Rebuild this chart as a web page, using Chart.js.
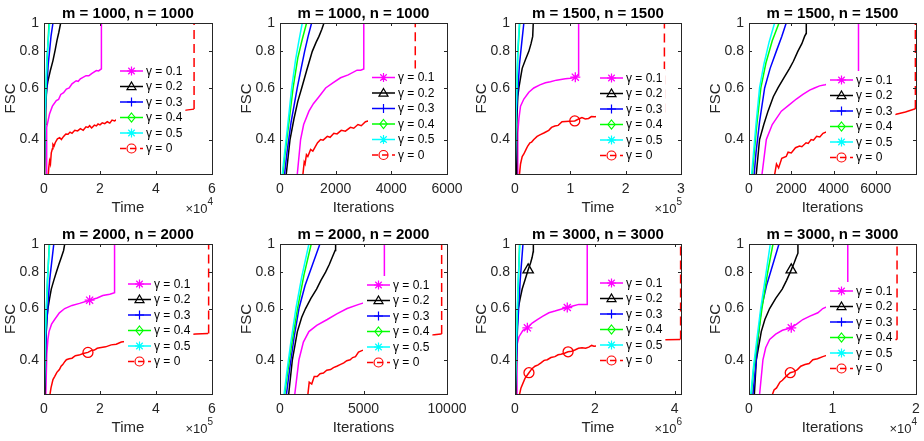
<!DOCTYPE html>
<html>
<head>
<meta charset="utf-8">
<script src="https://cdn.jsdelivr.net/npm/chart.js@4.4.1/dist/chart.umd.min.js"></script>
<style>
  html, body { margin: 0; padding: 0; background: #fff; }
  body { width: 924px; height: 441px; position: relative; overflow: hidden; }
  .cell { position: absolute; }
</style>
</head>
<body>
<script>
// ---- chart text ----
const titles = ['m = 1000, n = 1000', 'm = 1000, n = 1000', 'm = 1500, n = 1500', 'm = 1500, n = 1500',
  'm = 2000, n = 2000', 'm = 2000, n = 2000', 'm = 3000, n = 3000', 'm = 3000, n = 3000'];
const xLabels = ['Time', 'Iterations', 'Time', 'Iterations', 'Time', 'Iterations', 'Time', 'Iterations'];
const legendLabels = ['\u03b3 = 0.1', '\u03b3 = 0.2', '\u03b3 = 0.3', '\u03b3 = 0.4', '\u03b3 = 0.5', '\u03b3 = 0'];

// ---- axes ----
const xMax = [6e4, 6000, 3e5, 7900, 6e5, 10000, 4.16e6, 2e4];
const xTicks = [[0, 2e4, 4e4, 6e4], [0, 2000, 4000, 6000], [0, 1e5, 2e5, 3e5], [0, 2000, 4000, 6000],
  [0, 2e5, 4e5, 6e5], [0, 5000, 10000], [0, 2e6, 4e6], [0, 1e4, 2e4]];
const xExp = [4, 0, 5, 0, 5, 0, 6, 4];
const yTicks = [0.4, 0.6, 0.8, 1];
const yMin = 0.305;

// ---- panel 1: m = n = 1000, time ----
const p1g01 = [[800,0.29],[900,0.4],[1000,0.44],[2000,0.49],[3000,0.52],[4400,0.543],[5200,0.548],[6000,0.57],[7000,0.578],[8000,0.595],[9000,0.6],[10000,0.62],[11500,0.635],[12200,0.632],[13000,0.645],[15000,0.661],[16000,0.66],[17000,0.672],[18700,0.688],[19500,0.686],[20500,0.697],[20500,1]];
const p1g02 = [[200,0.29],[400,0.45],[600,0.54],[1000,0.6],[1430,0.635],[2300,0.69],[3200,0.744],[4000,0.81],[4640,0.872],[5300,0.93],[5950,1]];
const p1g03 = [[0,0.29],[500,0.5],[1500,0.72],[2500,0.9],[3200,1]];
const p1g04 = [[0,0.29],[450,0.5],[1100,0.75],[1800,1]];
const p1g05 = [[0,0.29],[400,0.5],[1000,0.75],[2000,1]];
const p1g0 = [[1400,0.29],[1700,0.32],[2000,0.338],[2300,0.33],[2600,0.36],[3000,0.372],[3200,0.385],[3600,0.38],[4000,0.39],[4800,0.402],[5600,0.406],[6200,0.4],[7000,0.41],[7800,0.418],[8600,0.417],[9300,0.424],[10000,0.42],[11000,0.43],[12000,0.428],[13000,0.436],[14000,0.43],[15000,0.442],[15700,0.44],[16300,0.446],[17000,0.438],[18000,0.448],[18700,0.445],[19300,0.452],[20000,0.449],[20800,0.456],[21700,0.453],[22600,0.46],[23500,0.455],[24300,0.466],[25200,0.463],[26000,0.468],[35000,0.48],[45000,0.495],[51400,0.505],[53600,0.508],[53600,1]];

// ---- panel 2: m = n = 1000, iterations ----
const p2g01 = [[600,0.29],[740,0.4],[850,0.45],[1040,0.5],[1200,0.53],[1400,0.56],[1640,0.6],[1900,0.625],[2175,0.65],[2450,0.665],[2770,0.69],[2900,0.69],[3010,0.697],[3010,1]];
const p2g02 = [[200,0.29],[360,0.4],[500,0.47],[640,0.54],[780,0.6],[960,0.69],[1160,0.8],[1300,0.86],[1400,0.9],[1500,0.95],[1580,1]];
const p2g03 = [[140,0.29],[250,0.36],[400,0.46],[620,0.6],[760,0.7],[885,0.8],[1010,0.9],[1135,1]];
const p2g04 = [[80,0.29],[170,0.35],[310,0.45],[470,0.6],[640,0.76],[800,0.88],[955,1]];
const p2g05 = [[60,0.29],[150,0.35],[280,0.45],[420,0.6],[560,0.75],[680,0.87],[800,1]];
const p2g0 = [[800,0.29],[870,0.335],[900,0.33],[950,0.355],[1000,0.35],[1100,0.37],[1180,0.365],[1250,0.375],[1350,0.39],[1460,0.4],[1550,0.398],[1700,0.41],[1800,0.407],[1935,0.42],[2050,0.418],[2200,0.43],[2350,0.427],[2530,0.44],[2650,0.437],[2800,0.45],[2920,0.446],[3070,0.46],[3800,0.48],[4500,0.49],[4860,0.5],[4860,1]];

// ---- panel 3: m = n = 1500, time ----
const p3g01 = [[4000,0.29],[5000,0.42],[7000,0.47],[10000,0.52],[16000,0.55],[25000,0.58],[34000,0.6],[45000,0.615],[55000,0.625],[64000,0.63],[75000,0.638],[91000,0.645],[100000,0.648],[109000,0.653],[115000,0.661],[115000,1]];
const p3g02 = [[2000,0.29],[3000,0.45],[5000,0.56],[7000,0.6],[10000,0.65],[13000,0.7],[19000,0.75],[25000,0.8],[29000,0.85],[32000,0.9],[33000,1]];
const p3g03 = [[0,0.29],[3000,0.5],[8000,0.72],[12000,0.85],[16000,1]];
const p3g04 = [[0,0.29],[2000,0.48],[5000,0.78],[8500,1]];
const p3g05 = [[0,0.29],[2000,0.5],[5000,0.8],[8000,1]];
const p3g0 = [[7000,0.29],[10000,0.33],[13000,0.35],[16000,0.357],[20000,0.37],[23000,0.38],[27000,0.39],[30000,0.392],[34000,0.4],[40000,0.41],[45000,0.415],[53000,0.422],[61000,0.43],[66000,0.44],[72000,0.445],[78000,0.447],[85000,0.46],[98000,0.462],[108000,0.463],[115000,0.47],[121000,0.475],[127000,0.47],[133000,0.472],[138000,0.479],[144000,0.478],[180000,0.485],[240000,0.49],[270000,0.495],[270000,1]];

// ---- panel 4: m = n = 1500, iterations ----
const p4g01 = [[580,0.29],[820,0.4],[1100,0.45],[1530,0.5],[1900,0.525],[2240,0.55],[2550,0.57],[2870,0.59],[3100,0.6],[3340,0.61],[3600,0.615],[4200,0.63],[4800,0.645],[5180,0.66],[5180,1]];
const p4g02 = [[315,0.29],[500,0.4],[700,0.45],[900,0.5],[1150,0.56],[1370,0.6],[1650,0.65],[1920,0.7],[2100,0.74],[2310,0.8],[2500,0.85],[2630,0.9],[2700,0.92],[2710,1]];
const p4g03 = [[220,0.29],[330,0.36],[500,0.46],[740,0.6],[1000,0.7],[1290,0.8],[1550,0.9],[1760,1]];
const p4g04 = [[130,0.29],[230,0.35],[370,0.45],[560,0.6],[800,0.73],[1100,0.87],[1420,1]];
const p4g05 = [[100,0.29],[200,0.35],[330,0.45],[500,0.6],[700,0.72],[950,0.86],[1210,1]];
const p4g0 = [[1165,0.29],[1300,0.33],[1400,0.32],[1550,0.345],[1760,0.35],[1850,0.362],[2000,0.36],[2200,0.375],[2390,0.38],[2500,0.378],[2700,0.39],[2800,0.388],[2940,0.4],[3050,0.398],[3200,0.41],[3350,0.408],[3500,0.42],[4500,0.45],[5500,0.47],[6500,0.48],[6960,0.488],[7400,0.497],[7830,0.508],[7870,0.508],[7870,1]];

// ---- panel 5: m = n = 2000, time ----
const p5g01 = [[6000,0.29],[10000,0.42],[14000,0.47],[18000,0.5],[27000,0.53],[38000,0.55],[55000,0.58],[74000,0.6],[100000,0.615],[127000,0.625],[163000,0.641],[190000,0.652],[210000,0.665],[235000,0.672],[252000,0.68],[252000,1]];
const p5g02 = [[3000,0.29],[6000,0.45],[10000,0.55],[14000,0.6],[20000,0.65],[26000,0.7],[35000,0.75],[44000,0.8],[53000,0.85],[62000,0.9],[70000,0.95],[74000,1]];
const p5g03 = [[0,0.29],[8000,0.5],[20000,0.75],[35000,1]];
const p5g04 = [[0,0.29],[5000,0.48],[12000,0.73],[19000,1]];
const p5g05 = [[0,0.29],[5000,0.5],[12000,0.75],[20000,1]];
const p5g0 = [[18000,0.29],[25000,0.32],[32000,0.342],[38000,0.35],[46000,0.362],[55000,0.37],[61000,0.38],[67000,0.385],[74000,0.394],[80000,0.4],[90000,0.403],[100000,0.405],[112000,0.413],[125000,0.415],[140000,0.42],[157000,0.424],[168000,0.43],[180000,0.432],[190000,0.438],[199000,0.44],[220000,0.443],[240000,0.45],[258000,0.452],[276000,0.46],[350000,0.47],[450000,0.482],[542000,0.49],[586000,0.492],[588000,0.492],[588000,1]];

// ---- panel 6: m = n = 2000, iterations ----
const p6g01 = [[840,0.29],[1135,0.4],[1400,0.46],[1730,0.5],[2200,0.525],[2830,0.55],[3400,0.575],[4020,0.6],[4720,0.62],[5500,0.64],[6250,0.66],[6250,1]];
const p6g02 = [[480,0.29],[740,0.4],[1040,0.5],[1300,0.56],[1530,0.6],[1850,0.65],[2190,0.7],[2450,0.75],[2730,0.8],[2950,0.85],[3130,0.9],[3300,0.95],[3330,1]];
const p6g03 = [[340,0.29],[600,0.38],[850,0.48],[1135,0.6],[1500,0.72],[1950,0.85],[2390,1]];
const p6g04 = [[230,0.29],[450,0.36],[720,0.46],[1050,0.6],[1430,0.78],[1870,1]];
const p6g05 = [[200,0.29],[400,0.36],[650,0.46],[950,0.6],[1300,0.77],[1730,1]];
const p6g0 = [[1630,0.29],[1750,0.335],[1900,0.33],[2050,0.35],[2230,0.35],[2400,0.358],[2600,0.36],[2800,0.368],[3030,0.37],[3200,0.376],[3400,0.38],[3600,0.385],[3820,0.39],[4000,0.397],[4200,0.4],[4350,0.407],[4520,0.41],[4700,0.425],[4900,0.43],[6000,0.45],[7500,0.47],[9240,0.488],[9640,0.49],[9680,0.49],[9680,1]];

// ---- panel 7: m = n = 3000, time ----
const p7g01 = [[30000,0.29],[50000,0.45],[100000,0.48],[200000,0.505],[310000,0.515],[430000,0.535],[560000,0.55],[700000,0.565],[850000,0.58],[1000000,0.588],[1150000,0.597],[1310000,0.605],[1450000,0.612],[1600000,0.62],[1810000,0.62],[1810000,1]];
const p7g02 = [[20000,0.29],[50000,0.5],[80000,0.6],[130000,0.65],[180000,0.7],[260000,0.76],[330000,0.815],[390000,0.86],[430000,0.9],[455000,0.94],[460000,1]];
const p7g03 = [[0,0.29],[60000,0.5],[130000,0.75],[200000,1]];
const p7g04 = [[0,0.29],[40000,0.48],[80000,0.72],[115000,1]];
const p7g05 = [[0,0.29],[40000,0.5],[80000,0.75],[120000,1]];
const p7g0 = [[80000,0.29],[150000,0.32],[250000,0.345],[350000,0.361],[420000,0.372],[500000,0.38],[580000,0.384],[650000,0.39],[730000,0.398],[810000,0.4],[900000,0.407],[1000000,0.41],[1080000,0.416],[1150000,0.418],[1240000,0.421],[1330000,0.426],[1420000,0.428],[1500000,0.432],[1590000,0.438],[1680000,0.44],[1770000,0.438],[1850000,0.442],[1920000,0.448],[1980000,0.445],[2600000,0.455],[3200000,0.462],[3770000,0.469],[4140000,0.47],[4150000,0.47],[4150000,1]];

// ---- panel 8: m = n = 3000, iterations ----
const p8g01 = [[1200,0.29],[1670,0.4],[2000,0.44],[2470,0.47],[3200,0.49],[4000,0.505],[5060,0.515],[5700,0.53],[6450,0.55],[7300,0.565],[8250,0.58],[8840,0.6],[10500,0.63],[11830,0.66],[11830,1]];
const p8g02 = [[600,0.29],[880,0.4],[1470,0.5],[1900,0.55],[2470,0.6],[3200,0.65],[3980,0.7],[4500,0.75],[5060,0.815],[5400,0.86],[5660,0.9],[5860,0.93],[5860,1]];
const p8g03 = [[400,0.29],[800,0.38],[1100,0.48],[1470,0.6],[2100,0.72],[2800,0.84],[3590,1]];
const p8g04 = [[200,0.29],[550,0.37],[1000,0.46],[1550,0.6],[2200,0.79],[2870,1]];
const p8g05 = [[160,0.29],[500,0.37],[900,0.46],[1400,0.6],[2000,0.78],[2550,1]];
const p8g0 = [[2550,0.29],[3000,0.315],[3300,0.32],[3700,0.335],[4000,0.34],[4500,0.352],[4940,0.361],[5400,0.364],[5800,0.37],[6200,0.38],[6700,0.385],[7200,0.388],[7650,0.4],[8200,0.403],[8840,0.41],[11000,0.43],[14000,0.45],[16500,0.465],[17600,0.47],[17730,0.47],[17730,1]];

// ---- visible markers on curves ----
const p3Marks = { g01: [[109000,0.653]], g02: [], g0: [[108000,0.463]] };
const p5Marks = { g01: [[163000,0.641]], g02: [], g0: [[157000,0.424]] };
const p7Marks = { g01: [[310000,0.515],[1310000,0.605]], g02: [[330000,0.815]], g0: [[350000,0.361],[1330000,0.426]] };
const p8Marks = { g01: [[5060,0.515]], g02: [[5060,0.815]], g0: [[4940,0.361]] };

// ---- layout / style ----
const FONT = "'Liberation Sans', Arial, Helvetica, sans-serif";
const AXIS = '#262626';
const colors = ['#ff00ff', '#000000', '#0000ff', '#00ff00', '#00ffff', '#ff0000'];
const markerStyles = ['star', 'triangle', 'cross', 'diamond', 'star', 'circle'];
const colLeft = [44, 280, 515, 749];
const colWidth = [168, 167, 166, 167];
const rowTop = [23, 244];
const rowHeight = [151, 150];
// legend offset of first line sample from plot's top-left corner
const legendPos = [[76, 48], [92, 54.5], [85, 55], [81, 57], [84, 40], [87, 41], [85, 39], [81, 47]];

const seriesByPanel = [
  [p1g01, p1g02, p1g03, p1g04, p1g05, p1g0],
  [p2g01, p2g02, p2g03, p2g04, p2g05, p2g0],
  [p3g01, p3g02, p3g03, p3g04, p3g05, p3g0],
  [p4g01, p4g02, p4g03, p4g04, p4g05, p4g0],
  [p5g01, p5g02, p5g03, p5g04, p5g05, p5g0],
  [p6g01, p6g02, p6g03, p6g04, p6g05, p6g0],
  [p7g01, p7g02, p7g03, p7g04, p7g05, p7g0],
  [p8g01, p8g02, p8g03, p8g04, p8g05, p8g0]
];
const marksByPanel = [null, null, p3Marks, null, p5Marks, null, p7Marks, p8Marks];

const toXY = (arr) => arr.map(([x, y]) => ({ x, y }));

function drawMarker(ctx, style, x, y, r, col) {
  ctx.save();
  ctx.strokeStyle = col;
  ctx.lineWidth = 1.2;
  ctx.setLineDash([]);
  ctx.beginPath();
  if (style === 'star') {
    const d = r * 0.72;
    ctx.moveTo(x - r, y); ctx.lineTo(x + r, y);
    ctx.moveTo(x, y - r); ctx.lineTo(x, y + r);
    ctx.moveTo(x - d, y - d); ctx.lineTo(x + d, y + d);
    ctx.moveTo(x - d, y + d); ctx.lineTo(x + d, y - d);
  } else if (style === 'triangle') {
    ctx.moveTo(x, y - r);
    ctx.lineTo(x + r, y + r * 0.7);
    ctx.lineTo(x - r, y + r * 0.7);
    ctx.closePath();
  } else if (style === 'cross') {
    ctx.moveTo(x - r, y); ctx.lineTo(x + r, y);
    ctx.moveTo(x, y - r); ctx.lineTo(x, y + r);
  } else if (style === 'diamond') {
    ctx.moveTo(x, y - r); ctx.lineTo(x + r * 0.8, y);
    ctx.lineTo(x, y + r); ctx.lineTo(x - r * 0.8, y);
    ctx.closePath();
  } else {
    ctx.arc(x, y, r, 0, Math.PI * 2);
  }
  ctx.stroke();
  ctx.restore();
}

function drawLegend(chart, i) {
  const ctx = chart.ctx, a = chart.chartArea;
  const x0 = a.left + legendPos[i][0], y0 = a.top + legendPos[i][1], dy = 15.5;
  ctx.save();
  ctx.font = `12px ${FONT}`;
  const tw = Math.max(...legendLabels.map((t) => ctx.measureText(t).width));
  ctx.fillStyle = '#ffffff';
  ctx.fillRect(x0 - 4, y0 - 9, 26 + tw + 7, 5 * dy + 18);
  legendLabels.forEach((t, k) => {
    const y = y0 + k * dy;
    ctx.strokeStyle = colors[k];
    ctx.lineWidth = 1.5;
    ctx.setLineDash(k === 5 ? [6, 4] : []);
    ctx.beginPath(); ctx.moveTo(x0, y); ctx.lineTo(x0 + 23, y); ctx.stroke();
    ctx.setLineDash([]);
    drawMarker(ctx, markerStyles[k], x0 + 11.5, y, 4.5, colors[k]);
    ctx.fillStyle = '#000';
    ctx.textBaseline = 'middle';
    ctx.textAlign = 'left';
    ctx.fillText(t, x0 + 26, y + 0.5);
  });
  ctx.restore();
}

function drawDecor(chart, i) {
  const ctx = chart.ctx, a = chart.chartArea;
  const xs = chart.scales.x, ys = chart.scales.y;
  ctx.save();
  // box
  ctx.strokeStyle = AXIS;
  ctx.lineWidth = 1;
  ctx.strokeRect(a.left + 0.5, a.top + 0.5, a.right - a.left, a.bottom - a.top);
  // inward ticks
  ctx.beginPath();
  xTicks[i].forEach((v) => {
    const px = Math.round(xs.getPixelForValue(v)) + 0.5;
    ctx.moveTo(px, a.bottom); ctx.lineTo(px, a.bottom - 3);
    ctx.moveTo(px, a.top); ctx.lineTo(px, a.top + 3);
  });
  yTicks.forEach((v) => {
    const py = Math.round(ys.getPixelForValue(v)) + 0.5;
    ctx.moveTo(a.left, py); ctx.lineTo(a.left + 3, py);
    ctx.moveTo(a.right, py); ctx.lineTo(a.right - 3, py);
  });
  ctx.stroke();
  // title
  const cx = (a.left + a.right) / 2;
  ctx.fillStyle = '#000';
  ctx.textAlign = 'center';
  ctx.textBaseline = 'alphabetic';
  ctx.font = `bold 15px ${FONT}`;
  ctx.fillText(titles[i], cx, a.top - 5);
  // x label
  ctx.fillStyle = AXIS;
  ctx.font = `15px ${FONT}`;
  ctx.fillText(xLabels[i], cx, a.bottom + 38);
  // y label
  ctx.save();
  ctx.translate(a.left - 29, (a.top + a.bottom) / 2);
  ctx.rotate(-Math.PI / 2);
  ctx.fillText('FSC', 0, 0);
  ctx.restore();
  // exponent
  if (xExp[i]) {
    ctx.font = `13px ${FONT}`;
    const w1 = ctx.measureText('\u00d710').width;
    ctx.font = `10px ${FONT}`;
    const w2 = ctx.measureText(String(xExp[i])).width;
    const sx = a.right + 1 - w1 - w2;
    ctx.textAlign = 'left';
    ctx.font = `13px ${FONT}`;
    ctx.fillText('\u00d710', sx, a.bottom + 39);
    ctx.font = `10px ${FONT}`;
    ctx.fillText(String(xExp[i]), sx + w1, a.bottom + 31);
  }
  ctx.restore();
}

const dashVertical = (c) => (c.p0.parsed.x === c.p1.parsed.x ? [9, 5] : undefined);

function makePanel(i) {
  const col = i % 4, row = Math.floor(i / 4);
  const padL = 44, padT = 28, padR = 30, padB = 46;
  const w = colWidth[col], h = rowHeight[row];
  const cell = document.createElement('div');
  cell.className = 'cell';
  cell.style.left = (colLeft[col] - padL) + 'px';
  cell.style.top = (rowTop[row] - padT) + 'px';
  cell.style.width = (w + padL + padR) + 'px';
  cell.style.height = (h + padT + padB) + 'px';
  const cv = document.createElement('canvas');
  cell.appendChild(cv);
  document.body.appendChild(cell);

  const series = seriesByPanel[i];
  const datasets = [];
  const marks = marksByPanel[i];
  if (marks) {
    [['g0', 5], ['g02', 1], ['g01', 0]].forEach(([key, k]) => {
      if (!marks[key].length) return;
      datasets.push({
        data: toXY(marks[key]), showLine: false, borderColor: colors[k],
        pointStyle: k === 5 ? 'circle' : (k === 1 ? 'triangle' : 'star'),
        pointRadius: k === 1 ? 6 : 5, pointBorderWidth: 1.3,
        pointBackgroundColor: 'rgba(0,0,0,0)', pointBorderColor: colors[k]
      });
    });
  }
  // red drawn on top, magenta at the bottom
  [5, 4, 3, 2, 1, 0].forEach((k) => {
    datasets.push({
      data: toXY(series[k]), borderColor: colors[k], borderWidth: 1.5,
      pointRadius: 0, tension: 0, fill: false,
      segment: k === 5 ? { borderDash: dashVertical } : undefined
    });
  });

  const scaleX = xExp[i] ? Math.pow(10, xExp[i]) : 1;
  new Chart(cv, {
    type: 'line',
    data: { datasets },
    options: {
      responsive: true,
      maintainAspectRatio: false,
      animation: false,
      layout: { padding: { left: 0, top: padT, right: padR, bottom: 0 } },
      plugins: { legend: { display: false }, tooltip: { enabled: false } },
      scales: {
        x: {
          type: 'linear', min: 0, max: xMax[i],
          grid: { display: false, drawTicks: false }, border: { display: false },
          afterFit: (s) => { s.height = padB; },
          afterBuildTicks: (s) => { s.ticks = xTicks[i].map((v) => ({ value: v })); },
          ticks: {
            padding: 7, maxRotation: 0, autoSkip: false, color: AXIS,
            font: { family: FONT, size: 14 },
            callback: (v) => String(Math.round((v / scaleX) * 1000) / 1000)
          }
        },
        y: {
          type: 'logarithmic', min: yMin, max: 1,
          grid: { display: false, drawTicks: false }, border: { display: false },
          afterFit: (s) => { s.width = padL; },
          afterBuildTicks: (s) => { s.ticks = yTicks.map((v) => ({ value: v })); },
          ticks: {
            padding: 5, autoSkip: false, color: AXIS,
            font: { family: FONT, size: 14 },
            callback: (v) => String(v)
          }
        }
      }
    },
    plugins: [{
      id: 'decor' + i,
      afterDatasetsDraw: (c) => drawLegend(c, i),
      afterDraw: (c) => drawDecor(c, i)
    }]
  });
}

for (let i = 0; i < 8; i++) makePanel(i);
</script>
</body>
</html>
